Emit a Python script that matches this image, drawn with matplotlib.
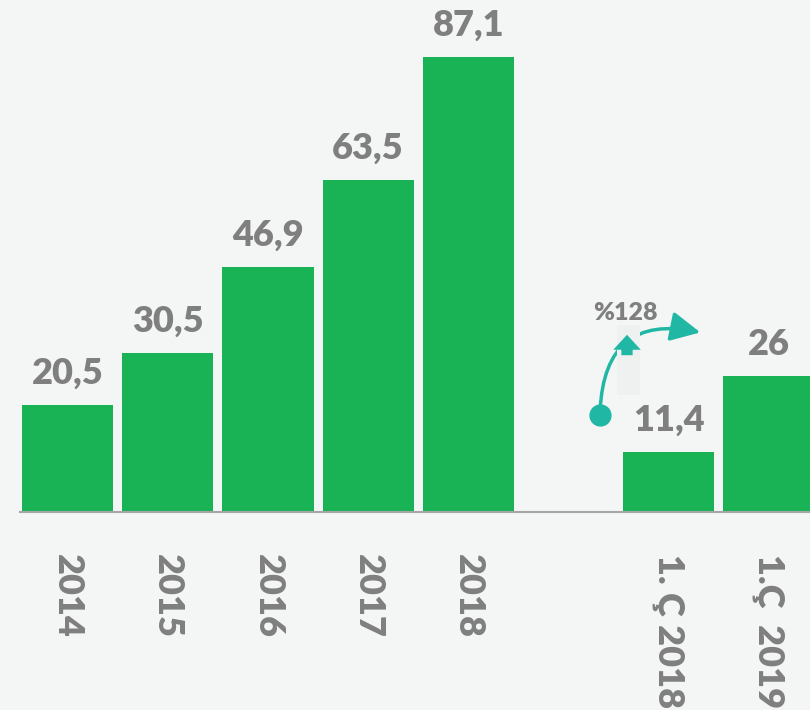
import matplotlib.pyplot as plt
from matplotlib.patches import FancyArrowPatch, Rectangle

categories = ["2014", "2015", "2016", "2017", "2018", "1. Ç 2018", "1.Ç  2019"]
positions = [0, 1, 2, 3, 4, 6, 7]
values = [20.5, 30.5, 46.9, 63.5, 87.1, 11.4, 26]
growth_label = "%128"

green = "#19b254"
grey = "#7f7f7f"
teal = "#20b8a4"
bg = "#f4f5f5"

plt.rcParams['font.family'] = ['Lato', 'DejaVu Sans']

fig = plt.figure(figsize=(8.1, 7.1), dpi=100, facecolor=bg)
ax = fig.add_axes([20 / 810, 198 / 710, 790 / 810, 512 / 710])
ax.set_facecolor(bg)


def px(x, y):
    # pixel position in the picture -> data coordinates
    return ((x - 20) / 100.19 - 0.475, (512 - y) / 5.224)


ax.bar(positions, values, width=0.91, color=green, zorder=2)
for p, v in zip(positions, values):
    txt = f"{v:g}".replace(".", ",")
    ax.annotate(txt, (p, v), xytext=(0, 11), textcoords="offset points",
                ha="center", va="bottom", fontsize=26, fontweight="heavy",
                color=grey)

ax.set_xlim(-0.475, 7.41)
ax.set_ylim(0, 98)
ax.set_xticks(positions)
ax.set_xticklabels(categories, rotation=270, fontsize=26, fontweight="heavy",
                   color=grey, va="top", ha="center")
ax.tick_params(axis="x", length=0, pad=30)
ax.set_yticks([])
for s in ["top", "right", "left"]:
    ax.spines[s].set_visible(False)
ax.spines["bottom"].set_color("#a6a6a6")
ax.spines["bottom"].set_linewidth(1.5)

# growth annotation
arc = FancyArrowPatch(px(600, 413), px(703, 333), connectionstyle="arc3,rad=-0.6",
                      arrowstyle="-|>,head_length=0.9,head_width=0.45",
                      mutation_scale=20, color=teal, lw=2.5, zorder=3)
ax.add_patch(arc)
x0, y0 = px(617, 395)
x1, y1 = px(640, 325)
ax.add_patch(Rectangle((x0, y0), x1 - x0, y1 - y0, color="#eff0f0", zorder=4, lw=0))
ax.add_patch(FancyArrowPatch(px(627, 358), px(627, 332),
                             arrowstyle="simple,head_length=0.6,head_width=1.1,tail_width=0.45",
                             mutation_scale=18, color=teal, lw=0, zorder=5))
cx, cy = px(600, 415)
ax.plot([cx], [cy], "o", ms=15, color=teal, zorder=5)
tx, ty = px(625, 313)
ax.text(tx, ty, growth_label, ha="center", va="center", fontsize=18,
        fontweight="heavy", color=grey, zorder=6)

fig.savefig("out.png", dpi=100, facecolor=bg)
